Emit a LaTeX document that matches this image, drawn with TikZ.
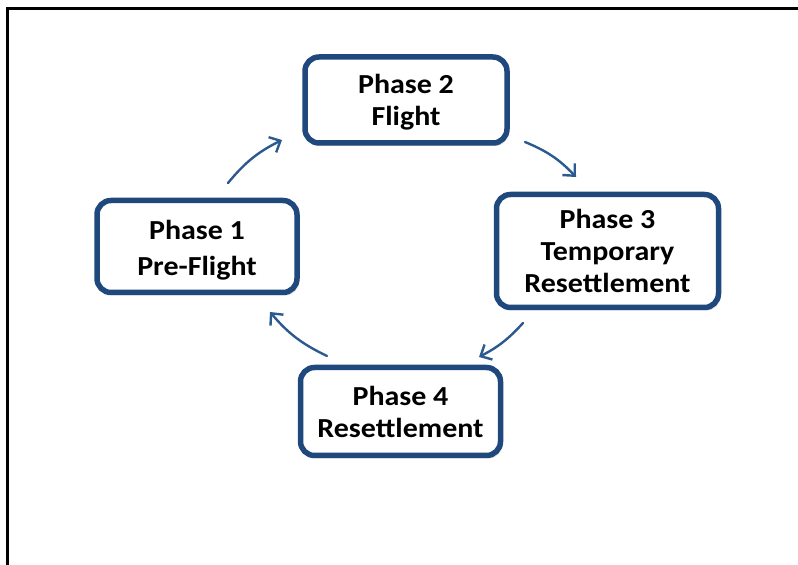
\documentclass[tikz,border=0pt]{standalone}
\usepackage{fontspec}
\setmainfont{Carlito}[FakeStretch=1.09]
\usetikzlibrary{arrows.meta,shadows.blur,shadows}
\definecolor{boxblue}{HTML}{1F497D}
\definecolor{arrowblue}{HTML}{2B5A91}
\tikzset{
  phase/.style={draw=boxblue, line width=5.5pt, rounded corners=14pt, fill=white,
    inner sep=0pt,
    drop shadow={shadow xshift=2pt, shadow yshift=-3pt, opacity=0.25, fill=black!60}},
  ptext/.style={align=center, font=\fontsize{27.5}{32}\selectfont\bfseries, inner sep=0pt},
  flow/.style={draw=arrowblue, line width=2.4pt, line cap=round,
    -{Straight Barb[length=9pt,width=17pt,line width=2.4pt]}},
  frameline/.style={line width=3pt, draw=black}
}
\begin{document}
\begin{tikzpicture}[x=1pt,y=1pt]
\useasboundingbox (0,0) rectangle (798,565);
\draw[frameline] (7.5,-10) -- (7.5,556.5) -- (810,556.5);
\node[phase, minimum width=202pt, minimum height=86pt,
  label={[ptext,yshift=-2pt]center:{Phase 2\\Flight}}] (p2) at (406,465) {};
\node[phase, minimum width=200pt, minimum height=92pt,
  label={[ptext,yshift=-4pt]center:{Phase 1\\[4pt]Pre-Flight}}] (p1) at (197,318.5) {};
\node[phase, minimum width=222pt, minimum height=113pt,
  label={[ptext,yshift=0pt]center:{Phase 3\\Temporary\\Resettlement}}] (p3) at (607.5,314) {};
\node[phase, minimum width=200pt, minimum height=88pt,
  label={[ptext,yshift=0pt]center:{Phase 4\\Resettlement}}] (p4) at (400.5,153.5) {};
\coordinate (a1s) at (228,382);
\coordinate (a1e) at (282,425);
\coordinate (a2s) at (525,423);
\coordinate (a2e) at (576,388);
\coordinate (a3s) at (523,242);
\coordinate (a3e) at (479,208);
\coordinate (a4s) at (327,209);
\coordinate (a4e) at (270,253);
\draw[flow] (a1s) to[bend left=12] (a1e);
\draw[flow] (a2s) to[bend left=12] (a2e);
\draw[flow] (a3s) to[bend left=10] (a3e);
\draw[flow] (a4s) to[bend left=12] (a4e);
\end{tikzpicture}
\end{document}
